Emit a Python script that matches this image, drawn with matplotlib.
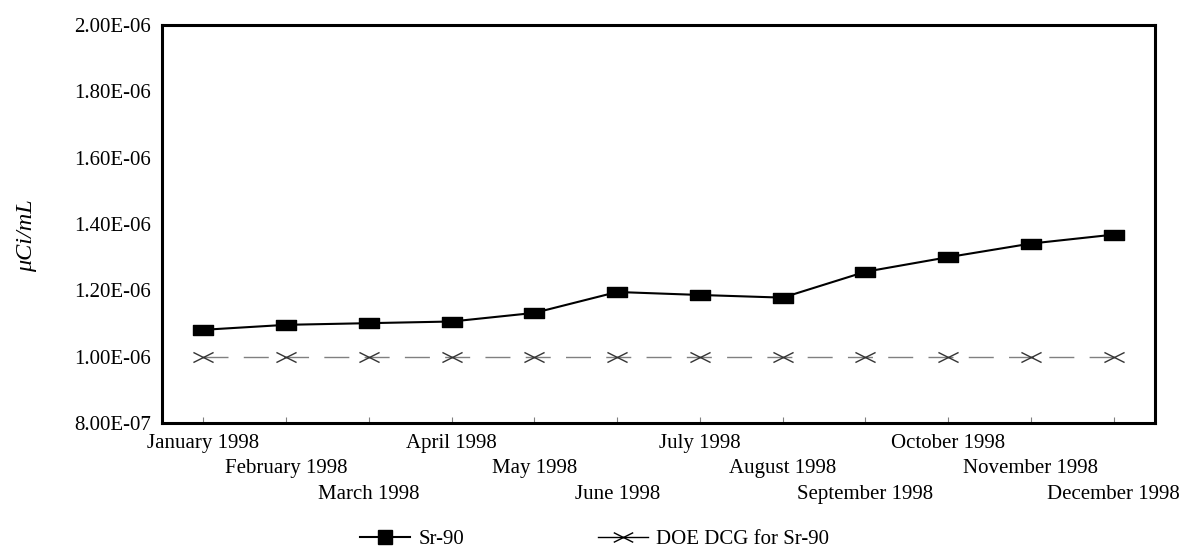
import numpy as np
import matplotlib.pyplot as plt
import matplotlib.transforms as mtransforms
from matplotlib.path import Path
from matplotlib.lines import Line2D

plt.rcParams['font.family'] = ['Liberation Serif', 'DejaVu Serif']

# Data
months = ['January 1998', 'February 1998', 'March 1998', 'April 1998',
          'May 1998', 'June 1998', 'July 1998', 'August 1998',
          'September 1998', 'October 1998', 'November 1998', 'December 1998']
sr90 = [1.081e-6, 1.096e-6, 1.101e-6, 1.106e-6, 1.132e-6, 1.195e-6,
        1.186e-6, 1.178e-6, 1.256e-6, 1.300e-6, 1.341e-6, 1.368e-6]
dcg = [1.0e-6] * 12
y_ticks = [8.0e-7, 1.0e-6, 1.2e-6, 1.4e-6, 1.6e-6, 1.8e-6, 2.0e-6]
y_labels = ['8.00E-07', '1.00E-06', '1.20E-06', '1.40E-06', '1.60E-06', '1.80E-06', '2.00E-06']

# flat rectangle and flat X markers
rect = Path([(-1, -0.5), (1, -0.5), (1, 0.5), (-1, 0.5), (-1, -0.5)],
            [Path.MOVETO, Path.LINETO, Path.LINETO, Path.LINETO, Path.CLOSEPOLY])
xmark = Path([(-1, -0.5), (1, 0.5), (-1, 0.5), (1, -0.5)],
             [Path.MOVETO, Path.LINETO, Path.MOVETO, Path.LINETO])

fig = plt.figure(figsize=(11.82, 5.48), dpi=100)
ax = fig.add_axes([0.1371, 0.2281, 0.8401, 0.7263])

x = np.arange(len(months))

dl, = ax.plot(x, dcg, color='#808080', lw=1.0, zorder=2)
dl.set_dashes([18, 11])
ax.plot(x, dcg, linestyle='none', marker=xmark, markersize=14.5,
        markeredgecolor='#333333', markerfacecolor='none', markeredgewidth=1.0, zorder=3)
ax.plot(x, sr90, color='black', lw=1.5, marker=rect, markersize=14.5,
        markerfacecolor='black', markeredgecolor='black', zorder=4)

ax.set_xlim(-0.5, 11.5)
ax.set_ylim(8.0e-7, 2.0e-6)
ax.set_yticks(y_ticks)
ax.set_yticklabels(y_labels, fontsize=15)
ax.tick_params(axis='y', length=0, pad=8)

ax.set_xticks(x)
ax.set_xticklabels([])
ax.tick_params(axis='x', direction='in', length=4.5, width=0.8, color='#808080')

# staggered month labels, three rows
for i, m in enumerate(months):
    row = i % 3
    off = mtransforms.ScaledTranslation(0, -(20 + 25.5 * row) / 100, fig.dpi_scale_trans)
    ax.text(x[i], 0, m, transform=ax.get_xaxis_transform() + off,
            ha='center', va='center', fontsize=15)

for s in ax.spines.values():
    s.set_linewidth(2.2)
    s.set_color('black')

fig.text(27 / 1182, 1 - 236 / 548, 'μCi/mL', rotation=90, fontsize=17.5,
         ha='center', va='center', fontstyle='italic')

handles = [Line2D([], [], color='black', lw=1.5, marker='s', markersize=10,
                  markerfacecolor='black'),
           Line2D([], [], color='black', lw=1.0, marker=xmark, markersize=14,
                  markerfacecolor='none', markeredgecolor='black')]
fig.legend(handles, ['Sr-90', 'DOE DCG for Sr-90'], loc='center', ncol=2,
           bbox_to_anchor=(0.503, 1 - 539 / 548), frameon=False, fontsize=15,
           handlelength=2.4, handletextpad=0.4, columnspacing=6.4,
           borderpad=0, borderaxespad=0)

plt.savefig('out.png', dpi=100)
